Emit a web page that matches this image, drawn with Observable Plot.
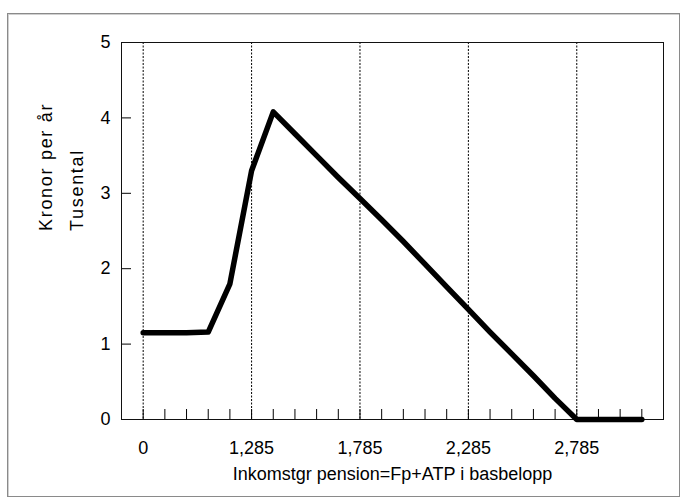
<!DOCTYPE html>
<html><head><meta charset="utf-8">
<script src="https://cdn.jsdelivr.net/npm/d3@7"></script>
<script src="https://cdn.jsdelivr.net/npm/@observablehq/plot@0.6"></script>
<style>
body{margin:0;background:#fff;}
#wrap{position:relative;width:686px;height:500px;}
#border{position:absolute;left:7px;top:13px;width:671px;height:482px;border:1px solid #8a8a8a;box-shadow:inset 1px 1px 0 #d0d0d0;pointer-events:none;}
</style></head><body><div id="wrap"><div id="border"></div></div>
<script>
const categoryIndex = d3.range(24);
const values = [1.15, 1.15, 1.15, 1.16, 1.8, 3.3, 4.08, 3.79, 3.5, 3.21, 2.93, 2.65, 2.36, 2.06, 1.76, 1.46, 1.16, 0.87, 0.58, 0.28, 0, 0, 0, 0];
const labelPositions = [0, 5, 10, 15, 20];
const tickLabels = ["0", "1,285", "1,785", "2,285", "2,785"];
const yTicks = [0, 1, 2, 3, 4, 5];
const yTitleLines = ["Kronor per år", "Tusental"];
const xTitle = "Inkomstgr pension=Fp+ATP i basbelopp";

const data = categoryIndex.map((i) => ({i, v: values[i]}));

const chart = Plot.plot({
  width: 686, height: 500,
  marginLeft: 121, marginRight: 23, marginTop: 42, marginBottom: 81,
  style: {fontFamily: "'Liberation Sans', Arial, sans-serif", fontSize: "18px", background: "transparent", overflow: "visible", color: "black"},
  x: {domain: [-1, 24], axis: null},
  y: {domain: [0, 5], axis: null},
  marks: [
    Plot.ruleX(labelPositions, {stroke: "black", strokeDasharray: "2,1.5", strokeWidth: 1}),
    Plot.axisX({ticks: categoryIndex, anchor: "bottom", tickSize: -10, tickFormat: () => "", label: null, stroke: "black"}),
    Plot.axisX({ticks: labelPositions, anchor: "bottom", tickSize: 0, tickPadding: 22, tickFormat: (d) => tickLabels[labelPositions.indexOf(d)], label: null, fontSize: 18}),
    Plot.axisY({ticks: yTicks, anchor: "left", tickSize: -10, tickFormat: () => "", label: null, stroke: "black"}),
    Plot.axisY({ticks: yTicks, anchor: "left", tickSize: 0, tickPadding: 11, tickFormat: d3.format("d"), label: null, fontSize: 18}),
    Plot.frame({stroke: "#111"}),
    Plot.text([yTitleLines[0]], {frameAnchor: "left", dx: -75, rotate: -90, lineAnchor: "middle", fontSize: 18}),
    Plot.text([yTitleLines[1]], {frameAnchor: "left", dx: -44, rotate: -90, lineAnchor: "middle", fontSize: 18}),
    Plot.text([xTitle], {frameAnchor: "bottom", dy: 60, fontSize: 18}),
    Plot.line(data, {x: "i", y: "v", stroke: "black", strokeWidth: 5.5, strokeLinejoin: "round"})
  ]
});
d3.select(chart).selectAll("text").filter(function () {
  return (this.getAttribute("transform") || "").includes("rotate");
}).style("letter-spacing", "1.7px");
document.getElementById("wrap").prepend(chart);
</script>
</body></html>
